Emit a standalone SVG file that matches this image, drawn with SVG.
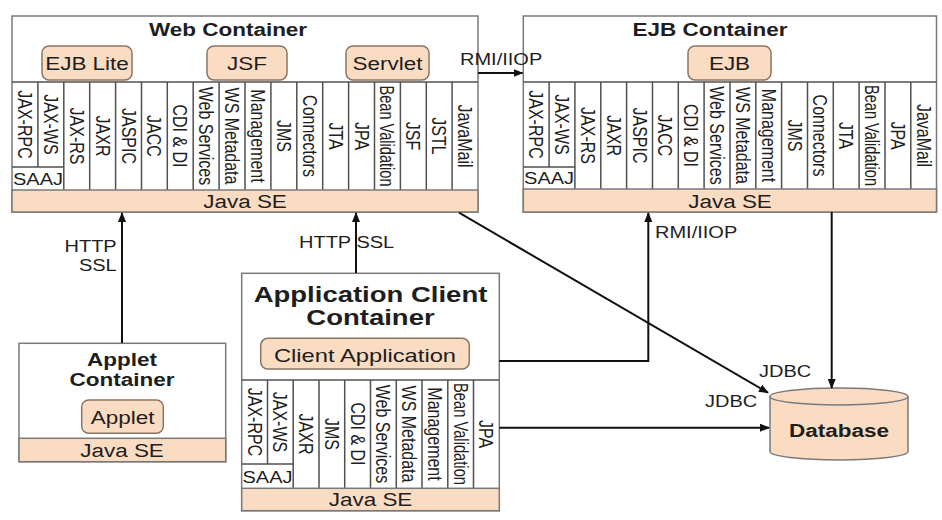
<svg xmlns="http://www.w3.org/2000/svg" width="942" height="520" viewBox="0 0 942 520">
<style>
  .box{fill:#ffffff;stroke:#7a7a7a;stroke-width:1.5}
  .band{fill:#fadcc3;stroke:#7a7a7a;stroke-width:1.5}
  .comp{fill:#fadcc3;stroke:#8a7565;stroke-width:1.5}
  .div{stroke:#505050;stroke-width:1.5;fill:none}
  .t{font-family:"Liberation Sans",Arial,sans-serif;fill:#1e1e1e}
  .title{font-weight:bold;font-size:18px;text-anchor:middle}
  .big{font-weight:bold;font-size:22px;text-anchor:middle}
  .lbl{font-size:18px;text-anchor:middle}
  .saaj{font-size:16px;text-anchor:middle}
  .r{font-size:16px;text-anchor:middle}
  .cl{font-size:16px}
  .conn{stroke:#111;stroke-width:2;fill:none}
</style>
<defs>
  <marker id="ah" markerUnits="userSpaceOnUse" markerWidth="10" markerHeight="8" refX="9" refY="4" orient="auto">
    <path d="M0,0 L10,4 L0,8 z" fill="#111"/>
  </marker>
</defs>

<g id="web-container">
  <rect class="box" x="12" y="16" width="466" height="196"/>
  <text class="t title" transform="translate(228,36) scale(1.25,1)">Web Container</text>
  <rect class="comp" x="42" y="46" width="90" height="34" rx="7"/>
  <text class="t lbl" transform="translate(87,69.5) scale(1.25,1)">EJB Lite</text>
  <rect class="comp" x="207" y="46" width="80" height="34" rx="7"/>
  <text class="t lbl" transform="translate(247,69.5) scale(1.25,1)">JSF</text>
  <rect class="comp" x="346" y="46" width="83" height="34" rx="7"/>
  <text class="t lbl" transform="translate(387.5,69.5) scale(1.25,1)">Servlet</text>
  <line class="div" x1="12" y1="82" x2="478" y2="82"/>
  <path class="div" d="M37.9,82V167 M63.8,82V190 M89.7,82V190 M115.6,82V190 M141.5,82V190 M167.3,82V190 M193.2,82V190 M219.1,82V190 M245,82V190 M270.9,82V190 M296.8,82V190 M322.7,82V190 M348.6,82V190 M374.5,82V190 M400.4,82V190 M426.3,82V190 M452.1,82V190 M12,167H63.8"/>
  <text class="t saaj" transform="translate(38,184.5) scale(1.25,1)">SAAJ</text>
  <rect class="band" x="12" y="190" width="466" height="22"/>
  <text class="t lbl" transform="translate(245,207.5) scale(1.25,1)">Java SE</text>
  <text class="t r" transform="translate(17.9,124.5) rotate(90) scale(1,1.25)">JAX-RPC</text>
  <text class="t r" transform="translate(43.8,124.5) rotate(90) scale(1,1.25)">JAX-WS</text>
  <text class="t r" transform="translate(69.7,136) rotate(90) scale(1,1.25)">JAX-RS</text>
  <text class="t r" transform="translate(95.6,136) rotate(90) scale(1,1.25)">JAXR</text>
  <text class="t r" transform="translate(121.5,136) rotate(90) scale(1,1.25)">JASPIC</text>
  <text class="t r" transform="translate(147.4,136) rotate(90) scale(1,1.25)">JACC</text>
  <text class="t r" transform="translate(173.3,136) rotate(90) scale(1,1.25)">CDI &amp; DI</text>
  <text class="t r" transform="translate(199.2,136) rotate(90) scale(1,1.25)">Web Services</text>
  <text class="t r" transform="translate(225.1,136) rotate(90) scale(1,1.25)">WS Metadata</text>
  <text class="t r" transform="translate(251,136) rotate(90) scale(1,1.25)">Management</text>
  <text class="t r" transform="translate(276.9,136) rotate(90) scale(1,1.25)">JMS</text>
  <text class="t r" transform="translate(302.8,136) rotate(90) scale(1,1.25)">Connectors</text>
  <text class="t r" transform="translate(328.6,136) rotate(90) scale(1,1.25)">JTA</text>
  <text class="t r" transform="translate(354.5,136) rotate(90) scale(1,1.25)">JPA</text>
  <text class="t r" transform="translate(380.4,136) rotate(90) scale(1,1.25)" textLength="101" lengthAdjust="spacingAndGlyphs">Bean Validation</text>
  <text class="t r" transform="translate(406.3,136) rotate(90) scale(1,1.25)">JSF</text>
  <text class="t r" transform="translate(432.2,136) rotate(90) scale(1,1.25)">JSTL</text>
  <text class="t r" transform="translate(458.1,136) rotate(90) scale(1,1.25)">JavaMail</text>
</g>

<g id="ejb-container">
  <rect class="box" x="523.3" y="16" width="413.2" height="196"/>
  <text class="t title" transform="translate(710,36) scale(1.25,1)">EJB Container</text>
  <rect class="comp" x="688" y="46" width="83" height="34" rx="7"/>
  <text class="t lbl" transform="translate(729.5,69.5) scale(1.25,1)">EJB</text>
  <line class="div" x1="523.3" y1="82" x2="936.5" y2="82"/>
  <path class="div" d="M549.1,82V167 M574.9,82V189 M600.8,82V189 M626.6,82V189 M652.5,82V189 M678.3,82V189 M704.1,82V189 M730,82V189 M755.8,82V189 M781.6,82V189 M807.5,82V189 M833.3,82V189 M859.1,82V189 M885,82V189 M910.8,82V189 M523.3,167H574.9"/>
  <text class="t saaj" transform="translate(549.1,184) scale(1.25,1)">SAAJ</text>
  <rect class="band" x="523.3" y="189" width="413.2" height="23"/>
  <text class="t lbl" transform="translate(730,207.5) scale(1.25,1)">Java SE</text>
  <text class="t r" transform="translate(529.2,124.5) rotate(90) scale(1,1.25)">JAX-RPC</text>
  <text class="t r" transform="translate(555,124.5) rotate(90) scale(1,1.25)">JAX-WS</text>
  <text class="t r" transform="translate(580.9,135.5) rotate(90) scale(1,1.25)">JAX-RS</text>
  <text class="t r" transform="translate(606.7,135.5) rotate(90) scale(1,1.25)">JAXR</text>
  <text class="t r" transform="translate(632.5,135.5) rotate(90) scale(1,1.25)">JASPIC</text>
  <text class="t r" transform="translate(658.4,135.5) rotate(90) scale(1,1.25)">JACC</text>
  <text class="t r" transform="translate(684.2,135.5) rotate(90) scale(1,1.25)">CDI &amp; DI</text>
  <text class="t r" transform="translate(710,135.5) rotate(90) scale(1,1.25)">Web Services</text>
  <text class="t r" transform="translate(735.9,135.5) rotate(90) scale(1,1.25)">WS Metadata</text>
  <text class="t r" transform="translate(761.7,135.5) rotate(90) scale(1,1.25)">Management</text>
  <text class="t r" transform="translate(787.6,135.5) rotate(90) scale(1,1.25)">JMS</text>
  <text class="t r" transform="translate(813.4,135.5) rotate(90) scale(1,1.25)">Connectors</text>
  <text class="t r" transform="translate(839.2,135.5) rotate(90) scale(1,1.25)">JTA</text>
  <text class="t r" transform="translate(865.1,135.5) rotate(90) scale(1,1.25)" textLength="101" lengthAdjust="spacingAndGlyphs">Bean Validation</text>
  <text class="t r" transform="translate(890.9,135.5) rotate(90) scale(1,1.25)">JPA</text>
  <text class="t r" transform="translate(916.8,135.5) rotate(90) scale(1,1.25)">JavaMail</text>
</g>

<g id="applet-container">
  <rect class="box" x="19" y="343.3" width="206.7" height="118.4"/>
  <text class="t title" transform="translate(122,365.7) scale(1.25,1)">Applet</text>
  <text class="t title" transform="translate(122,386) scale(1.25,1)">Container</text>
  <rect class="comp" x="81.7" y="400" width="81.6" height="33.3" rx="7"/>
  <text class="t lbl" transform="translate(122.5,423.5) scale(1.25,1)">Applet</text>
  <rect class="band" x="19" y="438.3" width="206.7" height="23.4"/>
  <text class="t lbl" transform="translate(122,457) scale(1.25,1)">Java SE</text>
</g>

<g id="application-client-container">
  <rect class="box" x="241.7" y="273.3" width="257.6" height="237.4"/>
  <text class="t big" transform="translate(370.5,301.7) scale(1.25,1)">Application Client</text>
  <text class="t big" transform="translate(370.5,325) scale(1.25,1)">Container</text>
  <rect class="comp" x="260.7" y="338.3" width="208.6" height="30.7" rx="7"/>
  <text class="t lbl" transform="translate(365,361.5) scale(1.25,1)" style="font-size:19px">Client Application</text>
  <line class="div" x1="241.7" y1="380" x2="499.3" y2="380"/>
  <path class="div" d="M267.5,380V464 M293.2,380V488 M319,380V488 M344.7,380V488 M370.5,380V488 M396.3,380V488 M422,380V488 M447.8,380V488 M473.5,380V488 M241.7,464H293.2"/>
  <text class="t saaj" transform="translate(267.5,482.5) scale(1.25,1)">SAAJ</text>
  <rect class="band" x="241.7" y="488.3" width="257.6" height="22.4"/>
  <text class="t lbl" transform="translate(370.5,506) scale(1.25,1)">Java SE</text>
  <text class="t r" transform="translate(247.6,422) rotate(90) scale(1,1.25)">JAX-RPC</text>
  <text class="t r" transform="translate(273.3,422) rotate(90) scale(1,1.25)">JAX-WS</text>
  <text class="t r" transform="translate(299.1,434) rotate(90) scale(1,1.25)">JAXR</text>
  <text class="t r" transform="translate(324.9,434) rotate(90) scale(1,1.25)">JMS</text>
  <text class="t r" transform="translate(350.6,434) rotate(90) scale(1,1.25)">CDI &amp; DI</text>
  <text class="t r" transform="translate(376.4,434) rotate(90) scale(1,1.25)">Web Services</text>
  <text class="t r" transform="translate(402.2,434) rotate(90) scale(1,1.25)">WS Metadata</text>
  <text class="t r" transform="translate(427.9,434) rotate(90) scale(1,1.25)">Management</text>
  <text class="t r" transform="translate(453.7,434) rotate(90) scale(1,1.25)" textLength="102" lengthAdjust="spacingAndGlyphs">Bean Validation</text>
  <text class="t r" transform="translate(479.4,434) rotate(90) scale(1,1.25)">JPA</text>
</g>

<g id="database">
  <path d="M770,396.5 V451.5 A69,8.5 0 0 0 908,451.5 V396.5" fill="#fadcc3" stroke="#7a7a7a" stroke-width="1.5"/>
  <ellipse cx="839" cy="396.5" rx="69" ry="8.5" fill="#fadcc3" stroke="#7a7a7a" stroke-width="1.5"/>
  <text class="t title" transform="translate(839,436.7) scale(1.25,1)">Database</text>
</g>

<g id="connectors">
  <line class="conn" x1="122" y1="343" x2="122" y2="213" marker-end="url(#ah)"/>
  <line class="conn" x1="356" y1="273" x2="356" y2="213" marker-end="url(#ah)"/>
  <line class="conn" x1="478" y1="73" x2="522.5" y2="73" marker-end="url(#ah)"/>
  <line class="conn" x1="459" y1="212.7" x2="768" y2="392.7" marker-end="url(#ah)"/>
  <polyline class="conn" points="499.3,361 648.3,361 648.3,213" marker-end="url(#ah)"/>
  <line class="conn" x1="499.3" y1="427.7" x2="769" y2="427.7" marker-end="url(#ah)"/>
  <line class="conn" x1="831.7" y1="212" x2="831.7" y2="388" marker-end="url(#ah)"/>
  <text class="t cl" transform="translate(116.7,251.7) scale(1.25,1)" text-anchor="end">HTTP</text>
  <text class="t cl" transform="translate(116.7,271) scale(1.25,1)" text-anchor="end">SSL</text>
  <text class="t cl" transform="translate(299,247.7) scale(1.25,1)">HTTP SSL</text>
  <text class="t cl" transform="translate(460,65) scale(1.25,1)">RMI/IIOP</text>
  <text class="t cl" transform="translate(655,238) scale(1.25,1)">RMI/IIOP</text>
  <text class="t cl" transform="translate(759,376.7) scale(1.25,1)">JDBC</text>
  <text class="t cl" transform="translate(705,406.7) scale(1.25,1)">JDBC</text>
</g>
</svg>
